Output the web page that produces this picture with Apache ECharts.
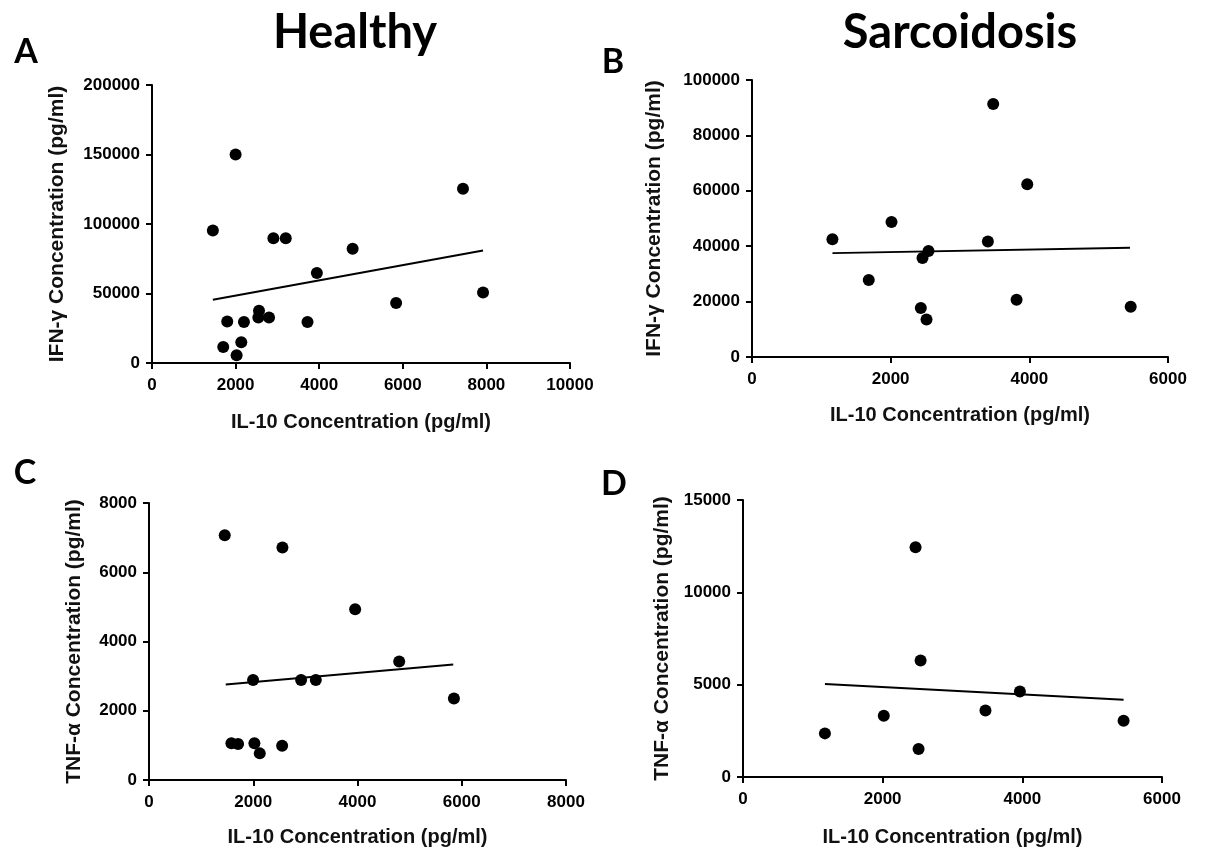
<!DOCTYPE html>
<html>
<head>
<meta charset="utf-8">
<script src="https://cdn.jsdelivr.net/npm/echarts@6/dist/echarts.min.js"></script>
<style>
html,body{margin:0;padding:0;background:#fff;}
#chart{width:1205px;height:852px;}
</style>
</head>
<body>
<div id="chart"></div>
<script>
// Panel A: Healthy, IL-10 vs IFN-gamma
const pointsA = [
  [2000,150000],[1456,95300],[2904,89800],[3200,89800],[4800,82200],[3944,64700],
  [7440,125300],[7920,50800],[5840,43100],[1800,29900],[2200,29500],[2560,37600],
  [2544,32800],[2800,32800],[3720,29500],[1704,11500],[2136,14900],[2024,5500]
];
const fitA = [[1456,45500],[7920,81000]];
// Panel B: Sarcoidosis, IL-10 vs IFN-gamma
const pointsB = [
  [3479,91350],[3970,62400],[2012,48700],[1160,42500],[3402,41700],[2546,38300],
  [2459,35700],[1684,27800],[3816,20700],[2435,17700],[5462,18150],[2517,13500]
];
const fitB = [[1160,37500],[5452,39400]];
// Panel C: Healthy, IL-10 vs TNF-alpha
const pointsC = [
  [1453,7067],[2560,6712],[3955,4933],[4800,3423],[1997,2885],[2918,2885],
  [3200,2885],[5850,2356],[1581,1058],[1709,1038],[2022,1058],[2554,990],[2125,769]
];
const fitC = [[1472,2760],[5837,3337]];
// Panel D: Sarcoidosis, IL-10 vs TNF-alpha
const pointsD = [
  [2471,12440],[2543,6310],[3965,4633],[3472,3606],[2016,3317],[5450,3047],
  [1173,2362],[2514,1514]
];
const fitD = [[1173,5030],[5450,4180]];

const xTitle = 'IL-10 Concentration (pg/ml)';
const yTitleIFN = 'IFN-\u03B3 Concentration (pg/ml)';
const yTitleTNF = 'TNF-\u03B1 Concentration (pg/ml)';
const columnTitles = ['Healthy', 'Sarcoidosis'];
const panelLetters = ['A', 'B', 'C', 'D'];

const axisScales = [
  {x:[0,10000,2000], y:[0,200000,50000]},
  {x:[0,6000,2000],  y:[0,100000,20000]},
  {x:[0,8000,2000],  y:[0,8000,2000]},
  {x:[0,6000,2000],  y:[0,15000,5000]}
];

const FONT = "'Liberation Sans', Arial, Helvetica, sans-serif";
const grids = [
  {left:152, top:85, width:418, height:278},
  {left:752, top:80, width:416, height:277},
  {left:149, top:503, width:417, height:277},
  {left:743, top:500, width:419, height:277}
];
const yNameGaps = [84, 87, 64, 70];
const xNameGaps = [49, 48, 47, 50];
const yNames = [yTitleIFN, yTitleIFN, yTitleTNF, yTitleTNF];

const axLine = {show:true, onZero:false, lineStyle:{color:'#000', width:2}};
const axTick = {show:true, inside:false, length:6, lineStyle:{color:'#000', width:2}};
const plain = v => String(v);

const xAxes = [], yAxes = [];
axisScales.forEach((s,i)=>{
  xAxes.push({
    type:'value', gridIndex:i, min:s.x[0], max:s.x[1], interval:s.x[2],
    axisLine:axLine, axisTick:axTick, splitLine:{show:false},
    axisLabel:{color:'#000', fontFamily:FONT, fontWeight:'bold', fontSize:17, margin:14, formatter:plain},
    name:xTitle, nameLocation:'middle', nameGap:xNameGaps[i],
    nameTextStyle:{color:'#111', fontFamily:FONT, fontWeight:'bold', fontSize:20}
  });
  yAxes.push({
    type:'value', gridIndex:i, min:s.y[0], max:s.y[1], interval:s.y[2],
    axisLine:axLine, axisTick:axTick, splitLine:{show:false},
    axisLabel:{color:'#000', fontFamily:FONT, fontWeight:'bold', fontSize:17, margin:12, formatter:plain},
    name:yNames[i], nameLocation:'middle', nameGap:yNameGaps[i],
    nameTextStyle:{color:'#111', fontFamily:FONT, fontWeight:'bold', fontSize:21}
  });
});

const allPoints = [pointsA, pointsB, pointsC, pointsD];
const allFits = [fitA, fitB, fitC, fitD];
const series = [];
allPoints.forEach((pts,i)=>{
  series.push({
    type:'line', xAxisIndex:i, yAxisIndex:i, data:allFits[i],
    showSymbol:false, symbol:'none', lineStyle:{color:'#000', width:2}, silent:true, z:2
  });
  series.push({
    type:'scatter', xAxisIndex:i, yAxisIndex:i, data:pts,
    symbol:'circle', symbolSize:12, itemStyle:{color:'#000', opacity:1}, z:3
  });
});

const titleFont = "'Lato', 'Open Sans', sans-serif";
const letterPos = [[26,52],[613,62],[25,473],[614,484]];
const graphics = [
  {type:'text', x:355, y:33, style:{text:columnTitles[0], font:"bold 47px "+titleFont, fill:'#000', textAlign:'center', textVerticalAlign:'middle'}},
  {type:'text', x:960, y:33, style:{text:columnTitles[1], font:"bold 47px "+titleFont, fill:'#000', textAlign:'center', textVerticalAlign:'middle'}}
];
panelLetters.forEach((l,i)=>{
  graphics.push({type:'text', x:letterPos[i][0], y:letterPos[i][1],
    style:{text:l, font:"bold 34px "+titleFont, fill:'#000', textAlign:'center', textVerticalAlign:'middle'}});
});

const chart = echarts.init(document.getElementById('chart'), null, {renderer:'canvas'});
chart.setOption({
  animation:false,
  backgroundColor:'#fff',
  grid:grids,
  xAxis:xAxes,
  yAxis:yAxes,
  series:series,
  graphic:graphics
});
</script>
</body>
</html>
